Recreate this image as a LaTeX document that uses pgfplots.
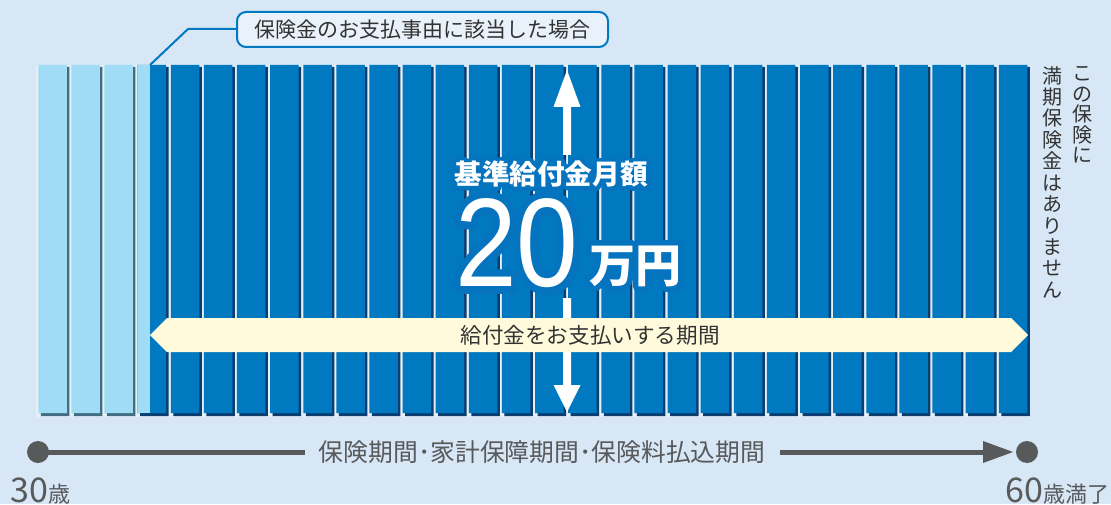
\documentclass[border=0pt]{standalone}
\usepackage{pgfplots}
\pgfplotsset{compat=1.18}
\usepackage{pgfplotstable}
\usepackage{fontspec}
\setmainfont{Noto Sans CJK JP}
\newfontfamily\numfont{Liberation Sans}

\definecolor{bg}{HTML}{D7E7F5}
\definecolor{barblue}{HTML}{0079C1}
\definecolor{barlight}{HTML}{A0DCF6}
\definecolor{shadowdark}{HTML}{0B3E70}
\definecolor{shadowlight}{HTML}{3F6E80}
\definecolor{gapcol}{HTML}{E6EEF6}
\definecolor{cream}{HTML}{FFFADB}
\definecolor{txt}{HTML}{333333}
\definecolor{tgray}{HTML}{58595B}

% one bar per year, 30 to 60 (x = centre, y = height)
\pgfplotstableread{
x y
52.5 348
85.6 348
118.7 348
}\lightbars
\pgfplotstableread{
x y
151.9 348
185.0 348
218.1 348
251.2 348
284.3 348
317.5 348
350.6 348
383.7 348
416.8 348
449.9 348
483.1 348
516.2 348
549.3 348
582.4 348
615.5 348
648.7 348
681.8 348
714.9 348
748.0 348
781.1 348
814.3 348
847.4 348
880.5 348
913.6 348
946.7 348
979.9 348
1013.0 348
}\darkbars

% white text on a blue halo: a stroked copy under the filled one
\newcommand{\halo}[2]{\rlap{\special{pdf:literal 1 Tr #1 w 1 j 0.02 0.45 0.74 RG}#2\special{pdf:literal 0 Tr}}#2}

\begin{document}
\begin{tikzpicture}
\begin{axis}[
  name=ax,
  x=0.5pt, y=0.5pt,
  xmin=0, xmax=1111, ymin=-91, ymax=413,
  enlargelimits=false,
  hide axis, clip=false,
]
% background
\fill[bg] (axis cs:0,-91) rectangle (axis cs:1111,413);
\fill[gapcol] (axis cs:36,-4) rectangle (axis cs:1030,348);

% bar shadows
\addplot[ybar, bar width=28.5, bar shift=0pt, fill=shadowlight, draw=none]
  table[x expr=\thisrow{x}+2.5, y expr=\thisrow{y}-2] {\lightbars};
\addplot[ybar, bar width=28.5, bar shift=0pt, fill=shadowlight, draw=none]
  table[x expr=\thisrow{x}+2.5, y expr=-3] {\lightbars};
\addplot[ybar, bar width=28.5, bar shift=0pt, fill=shadowdark, draw=none]
  table[x expr=\thisrow{x}+2.5, y expr=\thisrow{y}-2] {\darkbars};
\addplot[ybar, bar width=28.5, bar shift=0pt, fill=shadowdark, draw=none]
  table[x expr=\thisrow{x}+2.5, y expr=-3] {\darkbars};
% bars
\addplot[ybar, bar width=28.5, bar shift=0pt, fill=barlight, draw=none] table {\lightbars};
\addplot[ybar, bar width=28.5, bar shift=0pt, fill=barblue, draw=none] table {\darkbars};
\addplot[ybar, bar width=12.4, bar shift=0pt, fill=barlight, draw=none] coordinates {(143.8,348)};

% callout
\draw[barblue, line width=1pt] (axis cs:237,384) -- (axis cs:188,384) -- (axis cs:150,348);
\draw[barblue, line width=1pt, fill=bg!55!white, rounded corners=4.5pt]
  (axis cs:237,366) rectangle (axis cs:608,401);
\node[text=txt, inner sep=0] at (axis cs:422.5,383.5)
  {\fontsize{10.5}{10.5}\selectfont 保険金のお支払事由に該当した場合};

% white arrows
\fill[white] (axis cs:567,343) -- (axis cs:580.5,306) -- (axis cs:571,306) -- (axis cs:571,258)
  -- (axis cs:563,258) -- (axis cs:563,306) -- (axis cs:553.5,306) -- cycle;
\fill[white] (axis cs:563,115) -- (axis cs:571,115) -- (axis cs:571,28) -- (axis cs:580.5,28)
  -- (axis cs:567,1) -- (axis cs:553.5,28) -- (axis cs:563,28) -- cycle;

% payment period band
\fill[cream] (axis cs:150,78) -- (axis cs:167,95) -- (axis cs:1011,95) -- (axis cs:1028,78)
  -- (axis cs:1011,61) -- (axis cs:167,61) -- cycle;
\node[text=txt, inner sep=0] at (axis cs:590,78)
  {\fontsize{10.8}{10.8}\selectfont 給付金をお支払いする期間};

% monthly amount
\node[text=white, inner sep=0] at (axis cs:551,239)
  {\fontsize{13.8}{13.8}\selectfont\bfseries\halo{4}{基準給付金月額}};
\node[text=white, inner sep=0] at (axis cs:517,170)
  {\numfont\fontsize{63}{63}\selectfont\scalebox{0.88}[1]{\halo{7.5}{20}}};
\node[text=white, inner sep=0] at (axis cs:635,147)
  {\fontsize{23}{23}\selectfont\bfseries\halo{5.5}{万円}};

% right-hand vertical note
\node[text=txt, inner sep=0, anchor=north, align=center,
  font=\fontsize{10}{10.3}\selectfont] at (axis cs:1082,347)
  {こ\\の\\保\\険\\に};
\node[text=txt, inner sep=0, anchor=north, align=center,
  font=\fontsize{10}{10.7}\selectfont] at (axis cs:1052,347)
  {満\\期\\保\\険\\金\\は\\あ\\り\\ま\\せ\\ん};

% time line
\draw[tgray, line width=2.5pt] (axis cs:38,-39) -- (axis cs:305,-39);
\fill[tgray] (axis cs:38,-39) circle[radius=5.5pt];
\node[text=tgray, inner sep=0] at (axis cs:542,-39)
  {\fontsize{12.4}{12.4}\selectfont 保険期間･家計保障期間･保険料払込期間};
\draw[tgray, line width=2.5pt] (axis cs:780,-39) -- (axis cs:988,-39);
\fill[tgray] (axis cs:983,-28) -- (axis cs:1013,-39) -- (axis cs:983,-50) -- cycle;
\fill[tgray] (axis cs:1027,-39) circle[radius=5.5pt];
\node[text=tgray, inner sep=0, anchor=base west] at (axis cs:10,-89)
  {\fontsize{17}{17}\selectfont 30\fontsize{11}{11}\selectfont 歳};
\node[text=tgray, inner sep=0, anchor=base east] at (axis cs:1110,-89)
  {\fontsize{17}{17}\selectfont 60\fontsize{11}{11}\selectfont 歳満了};
\end{axis}

\pgfresetboundingbox
\path[use as bounding box] (ax.south west) rectangle (ax.north east);
\end{tikzpicture}
\end{document}
